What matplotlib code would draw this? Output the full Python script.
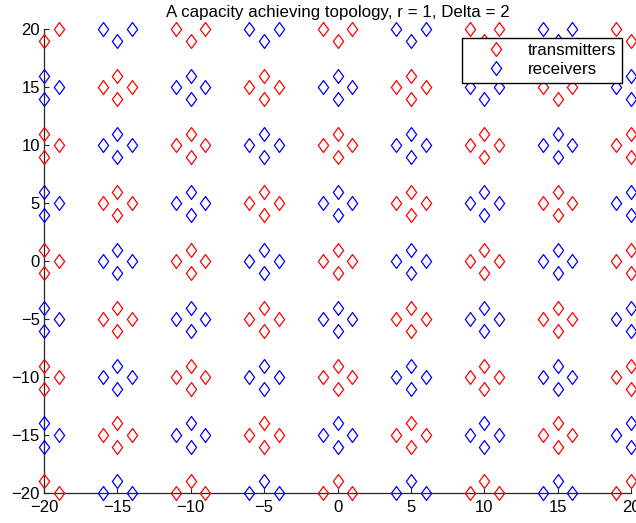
import matplotlib
matplotlib.use("Agg")
import matplotlib.pyplot as plt
import numpy as np
from matplotlib.path import Path

# cluster centres of the grid (both axes)
centers_x = [-20, -15, -10, -5, 0, 5, 10, 15, 20]
centers_y = [20, 15, 10, 5, 0, -5, -10, -15, -20]
# four nodes around every centre: left, right, up, down
offsets_x = [-1, 1, 0, 0]
offsets_y = [0, 0, 1, -1]
xticks = [-20, -15, -10, -5, 0, 5, 10, 15, 20]
yticks = [-20, -15, -10, -5, 0, 5, 10, 15, 20]
title = "A capacity achieving topology, r = 1, Delta = 2"
labels = ["transmitters", "receivers"]
colors = ["#ff0000", "#0000ff"]

plt.rcParams["font.family"] = ["Liberation Sans", "DejaVu Sans"]


def cluster_points(parity):
    xs, ys = [], []
    for j, cy in enumerate(centers_y):
        for i, cx in enumerate(centers_x):
            if (i + j) % 2 != parity:
                continue
            for dx, dy in zip(offsets_x, offsets_y):
                px, py = cx + dx, cy + dy
                # MATLAB clips markers by their centre point
                if -20 <= px <= 20 and -20 <= py <= 20:
                    xs.append(px)
                    ys.append(py)
    return xs, ys


diamond = Path([(0, 1), (0.74, 0), (0, -1), (-0.74, 0), (0, 1)],
               [Path.MOVETO, Path.LINETO, Path.LINETO, Path.LINETO, Path.CLOSEPOLY])

fig = plt.figure(figsize=(6.36, 5.23), dpi=100)
ax = fig.add_axes([44 / 636, 30 / 523, 587 / 636, 463.5 / 523])

for parity, (label, color) in enumerate(zip(labels, colors)):
    xs, ys = cluster_points(parity)
    ax.plot(xs, ys, linestyle="none", marker=diamond, markersize=10,
            markerfacecolor="none", markeredgecolor=color,
            markeredgewidth=0.9, label=label, clip_on=False, zorder=3)

ax.set_xlim(-20, 20)
ax.set_ylim(-20, 20)
ax.set_xticks(xticks)
ax.set_yticks(yticks)
ax.set_xticklabels([str(t).replace("-", "\u2212") for t in xticks])
ax.set_yticklabels([str(t).replace("-", "\u2212") for t in yticks])
ax.tick_params(direction="in", length=3.6, width=0.8, colors="#262626",
               labelsize=12, labelcolor="black")
ax.tick_params(axis="x", pad=5)
ax.tick_params(axis="y", pad=3)
for side in ["top", "right"]:
    ax.spines[side].set_visible(False)
for side in ["left", "bottom"]:
    ax.spines[side].set_color("#262626")
    ax.spines[side].set_linewidth(0.9)

ax.set_title(title, fontsize=12.2, pad=9)

leg = ax.legend(loc="upper right", bbox_to_anchor=(622 / 636, 1 - 37.5 / 523),
                bbox_transform=fig.transFigure, fontsize=12.2, frameon=True,
                fancybox=False, framealpha=1, edgecolor="black",
                borderpad=0.35, labelspacing=0.2, handletextpad=0.2,
                handlelength=3.3, borderaxespad=0)
leg.get_frame().set_linewidth(1.0)
leg.set_zorder(5)

fig.savefig("out.png", dpi=100)
